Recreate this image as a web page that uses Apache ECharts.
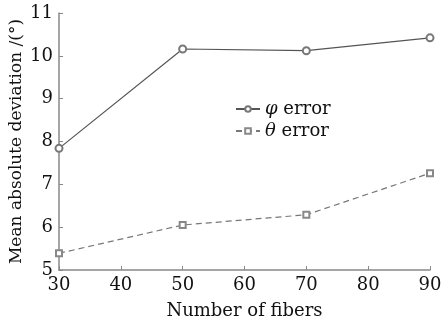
<!DOCTYPE html>
<html><head><meta charset="utf-8">
<script src="https://cdn.jsdelivr.net/npm/echarts@6/dist/echarts.min.js"></script>
<style>html,body{margin:0;padding:0;background:#fff}#c{width:443px;height:321px}</style>
</head><body><div id="c"></div>
<script>
var fibers = [30, 50, 70, 90];
var phiError = [7.84, 10.16, 10.12, 10.42];
var thetaError = [5.39, 6.05, 6.29, 7.26];
var xTicks = [30, 40, 50, 60, 70, 80, 90];
var yTicks = [5, 6, 7, 8, 9, 10, 11];
var font = 'DejaVu Serif';
var chart = echarts.init(document.getElementById('c'));
chart.setOption({
  animation: false,
  backgroundColor: '#fff',
  grid: {left: 59, right: 13, top: 13, bottom: 51, outerBoundsMode: 'none', containLabel: false},
  legend: {
    orient: 'vertical', left: 230, top: 95, itemGap: 4, itemWidth: 24, itemHeight: 7,
    data: ['phi', 'theta'],
    formatter: function (n) { return n === 'phi' ? '{i|φ} error' : '{i|θ} error'; },
    textStyle: {fontFamily: font, fontSize: 18, color: '#111',
      rich: {i: {fontFamily: font, fontStyle: 'italic', fontSize: 18, color: '#111'}}}
  },
  xAxis: {
    type: 'value', min: xTicks[0], max: xTicks[xTicks.length - 1], interval: 10,
    name: 'Number of fibers', nameLocation: 'middle', nameGap: 32, nameMoveOverlap: false,
    nameTextStyle: {fontFamily: font, fontSize: 18, color: '#111'},
    axisLine: {lineStyle: {color: '#888', width: 1.5}},
    axisTick: {inside: true, length: 4, lineStyle: {color: '#888'}},
    axisLabel: {fontFamily: font, fontSize: 18, color: '#111', margin: 6},
    splitLine: {show: false}
  },
  yAxis: {
    type: 'value', min: yTicks[0], max: yTicks[yTicks.length - 1], interval: 1,
    name: 'Mean absolute deviation /(°)', nameLocation: 'middle', nameGap: 34, nameMoveOverlap: false,
    nameTextStyle: {fontFamily: font, fontSize: 17, color: '#111'},
    axisLine: {show: true, lineStyle: {color: '#888', width: 1.5}},
    axisTick: {show: true, inside: true, length: 4, lineStyle: {color: '#888'}},
    axisLabel: {fontFamily: font, fontSize: 18, color: '#111', margin: 6},
    splitLine: {show: false}
  },
  series: [
    {name: 'phi', type: 'line', data: fibers.map(function (x, i) { return [x, phiError[i]]; }),
     symbol: 'emptyCircle', symbolSize: 7,
     lineStyle: {color: '#555', width: 1.2}, itemStyle: {color: '#777', borderWidth: 0.8}},
    {name: 'theta', type: 'line', data: fibers.map(function (x, i) { return [x, thetaError[i]]; }),
     symbol: 'emptyRect', symbolSize: 6,
     lineStyle: {color: '#777', width: 1.2, type: [6, 4]}, itemStyle: {color: '#888', borderWidth: 0.8}}
  ]
});
</script></body></html>
